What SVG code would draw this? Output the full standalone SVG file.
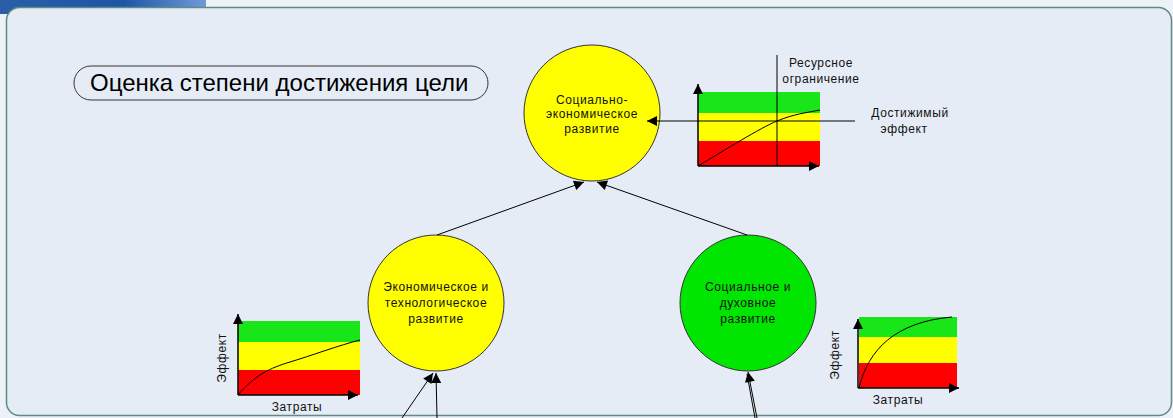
<svg xmlns="http://www.w3.org/2000/svg" width="1173" height="418" viewBox="0 0 1173 418">
<defs>
<linearGradient id="hdr" x1="0" y1="0" x2="1" y2="0">
<stop offset="0" stop-color="#2a5ea8"/>
<stop offset="0.6" stop-color="#1d56a6"/>
<stop offset="1" stop-color="#6f9ad6"/>
</linearGradient>
<marker id="ah" viewBox="0 0 10 10" refX="10" refY="5" markerWidth="10" markerHeight="10" markerUnits="userSpaceOnUse" orient="auto">
<path d="M0,0 L10,5 L0,10 z" fill="#000"/>
</marker>
<marker id="ahb" viewBox="0 0 10 10" refX="10" refY="5" markerWidth="13" markerHeight="10" markerUnits="userSpaceOnUse" orient="auto">
<path d="M0,0 L10,5 L0,10 z" fill="#000"/>
</marker>
</defs>
<style>
.node{stroke:#333;stroke-width:1}
.lbl{font-family:"Liberation Sans",Arial,sans-serif;font-size:12px;fill:#111;text-anchor:middle;letter-spacing:0.6px}
.ax{stroke:#000;stroke-width:1.5;fill:none}
.cv{stroke:#000;stroke-width:1;fill:none}
.con{stroke:#000;stroke-width:1;fill:none}
</style>
<rect x="0" y="0" width="1173" height="418" fill="#edf1f8"/>
<rect x="0" y="0" width="206" height="14" fill="url(#hdr)"/>
<rect x="6.5" y="7.5" width="1165" height="408" rx="13" fill="#e6ecf6" stroke="#5e8c84" stroke-width="1.5"/>

<g id="title">
<rect x="74" y="66" width="414" height="34" rx="17" fill="#e6ecf6" stroke="#333" stroke-width="1"/>
<text x="90" y="91" font-family="Liberation Sans,Arial,sans-serif" font-size="24" fill="#000">Оценка степени достижения цели</text>
</g>

<g id="node-top">
<ellipse class="node" cx="592" cy="113" rx="68" ry="68" fill="#ffff00"/>
<text class="lbl" x="592" y="104">Социально-</text>
<text class="lbl" x="592" y="118">экономическое</text>
<text class="lbl" x="592" y="133">развитие</text>
</g>

<g id="node-econ">
<ellipse class="node" cx="436" cy="303" rx="68" ry="68" fill="#ffff00"/>
<text class="lbl" x="436" y="291">Экономическое и</text>
<text class="lbl" x="436" y="307">технологическое</text>
<text class="lbl" x="436" y="323">развитие</text>
</g>

<g id="node-social">
<ellipse class="node" cx="748" cy="303" rx="68" ry="68" fill="#00e600"/>
<text class="lbl" x="748" y="291">Социальное и</text>
<text class="lbl" x="748" y="307">духовное</text>
<text class="lbl" x="748" y="323">развитие</text>
</g>

<g id="chart-top">
<rect x="698" y="92" width="122" height="21" fill="#18e618"/>
<rect x="698" y="113" width="122" height="28" fill="#ffff00"/>
<rect x="698" y="141" width="122" height="25" fill="#ff0000"/>
<path class="cv" d="M698,166 C725,150 760,128 777,121 S805,113 820,110"/>
<line class="ax" x1="698" y1="166" x2="698" y2="84" marker-end="url(#ah)"/>
<line class="ax" x1="698" y1="166" x2="819" y2="166" marker-end="url(#ah)"/>
<text class="lbl" x="821" y="67">Ресурсное</text>
<text class="lbl" x="821" y="83">ограничение</text>
<text class="lbl" x="910" y="117">Достижимый</text>
<text class="lbl" x="904" y="133">эффект</text>
</g>

<g id="chart-left">
<rect x="238" y="321" width="122" height="21" fill="#18e618"/>
<rect x="238" y="342" width="122" height="28" fill="#ffff00"/>
<rect x="238" y="370" width="122" height="25" fill="#ff0000"/>
<path class="cv" d="M238,395 C255,375 270,368 290,362 S340,345 360,340"/>
<line class="ax" x1="238" y1="395" x2="238" y2="314" marker-end="url(#ah)"/>
<line class="ax" x1="238" y1="395" x2="358" y2="395" marker-end="url(#ah)"/>
<text class="lbl" x="297" y="411">Затраты</text>
<text class="lbl" transform="translate(226,358) rotate(-90)">Эффект</text>
</g>

<g id="chart-right">
<rect x="859" y="317" width="98" height="20" fill="#18e618"/>
<rect x="859" y="337" width="98" height="26" fill="#ffff00"/>
<rect x="859" y="363" width="98" height="25" fill="#ff0000"/>
<path class="cv" d="M859,388 C868,350 895,322 952,317"/>
<line class="ax" x1="858" y1="388" x2="858" y2="319" marker-end="url(#ah)"/>
<line class="ax" x1="858" y1="388" x2="959" y2="388" marker-end="url(#ah)"/>
<text class="lbl" x="898" y="404">Затраты</text>
<text class="lbl" transform="translate(839,355) rotate(-90)">Эффект</text>
</g>

<g id="connectors">
<line class="con" x1="437" y1="235" x2="584" y2="182" marker-end="url(#ahb)"/>
<line class="con" x1="747" y1="235" x2="597" y2="182" marker-end="url(#ahb)"/>
<line class="con" x1="402" y1="418" x2="433" y2="373" marker-end="url(#ahb)"/>
<line class="con" x1="437" y1="418" x2="436" y2="373" marker-end="url(#ahb)"/>
<line class="con" x1="757" y1="418" x2="748" y2="372" marker-end="url(#ahb)"/>
<line class="con" x1="755" y1="418" x2="747" y2="374"/>
<line class="con" x1="855" y1="121" x2="647" y2="121" marker-end="url(#ahb)"/>
<line class="con" x1="777" y1="55" x2="777" y2="166"/>
</g>
</svg>
